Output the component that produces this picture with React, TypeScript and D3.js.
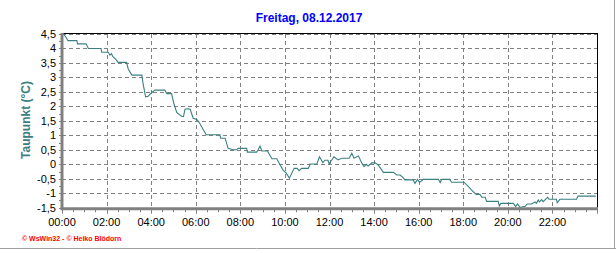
import React from "react";
import * as d3 from "d3";

const title = "Freitag, 08.12.2017";
const yLabel = "Taupunkt  (°C)";
const footer = "© WsWin32 - © Heiko Blödorn";
const yTicks = [-1.5, -1, -0.5, 0, 0.5, 1, 1.5, 2, 2.5, 3, 3.5, 4, 4.5];
const xTickHours = [0, 2, 4, 6, 8, 10, 12, 14, 16, 18, 20, 22];

const times = [
  "00:00","00:03","00:11","00:16","00:40","00:42","01:05","01:11","01:45","01:47",
  "02:05","02:09","02:13","02:17","02:25","02:31","02:54","02:58","03:08","03:35",
  "03:38","03:45","03:52","03:57","04:10","04:37","04:42","04:55","05:01","05:09",
  "05:22","05:27","05:31","05:39","05:45","05:53","06:03","06:09","06:20","06:28",
  "07:05","07:07","07:19","07:27","07:40","07:50","07:54","08:17","08:19","08:44",
  "08:48","08:53","08:58","09:13","09:25","09:38","09:47","09:55","10:03","10:12",
  "10:25","10:33","10:38","10:45","11:03","11:08","11:26","11:33","11:42","11:48",
  "11:56","11:59","12:12","12:23","12:33","12:53","13:00","13:06","13:18","13:27",
  "13:33","13:39","13:44","13:54","14:03","14:12","14:25","14:52","15:01","15:10",
  "15:18","15:23","15:45","15:50","15:57","16:02","16:13","16:53","16:58","17:02",
  "17:23","17:29","18:02","18:14","18:27","18:35","18:45","18:50","18:59","19:03",
  "19:34","19:37","19:41","20:15","20:21","20:26","20:33","20:42","20:46","20:52",
  "21:04","21:13","21:17","21:22","21:25","21:31","21:35","21:47","21:51","22:11",
  "22:13","22:20","23:05","23:09","23:57"
];
const values = [
  4.5,4.52,4.38,4.27,4.27,4.16,4.16,4.0,4.0,3.87,
  3.87,3.77,3.82,3.72,3.62,3.52,3.52,3.3,3.08,3.08,
  2.8,2.33,2.35,2.42,2.56,2.56,2.44,2.44,2.1,1.78,
  1.66,1.65,1.9,1.92,1.9,1.59,1.55,1.45,1.2,1.02,
  1.02,0.9,0.9,0.55,0.5,0.5,0.55,0.55,0.42,0.42,
  0.5,0.63,0.46,0.46,0.19,0.19,-0.02,-0.2,-0.3,-0.48,
  -0.14,-0.14,-0.22,-0.14,-0.14,0.01,0.01,0.26,0.06,0.14,
  0.14,0.02,0.26,0.15,0.21,0.21,0.38,0.21,0.29,0.04,
  -0.08,0.0,-0.06,0.05,0.05,-0.04,-0.28,-0.28,-0.37,-0.37,
  -0.46,-0.54,-0.54,-0.66,-0.52,-0.63,-0.52,-0.52,-0.63,-0.52,
  -0.52,-0.62,-0.62,-0.77,-0.95,-1.04,-1.04,-1.14,-1.14,-1.28,
  -1.28,-1.44,-1.35,-1.35,-1.46,-1.37,-1.49,-1.46,-1.46,-1.37,
  -1.37,-1.3,-1.35,-1.23,-1.3,-1.22,-1.29,-1.14,-1.21,-1.21,
  -1.33,-1.21,-1.21,-1.1,-1.1
];

const toHours = (s: string) => {
  const [h, m] = s.split(":").map(Number);
  return h + m / 60;
};
const pad = (h: number) => (h < 10 ? "0" + h : "" + h) + ":00";

export default function App() {
  const W = 616, H = 253;
  const left = 62, right = 597, top = 34, bottom = 207.7;
  const x = d3.scaleLinear().domain([0, 24]).range([left, right]);
  const y = d3.scaleLinear().domain([-1.5, 4.5]).range([bottom, top]);
  const data = times.map((t, i) => ({ t: toHours(t), v: values[i] }));
  const line = d3.line<{ t: number; v: number }>().x(d => x(d.t)).y(d => y(d.v));
  const minorX = d3.range(0, 24.01, 0.5);
  const minorY = d3.range(-1.5, 4.51, 0.25);
  const grid = "#808080";
  return (
    <svg width={W} height={H} style={{ position: "absolute", left: 0, top: 0, background: "#fff" }}
      fontFamily="Arial, 'Liberation Sans', sans-serif">
      <rect x={0} y={0} width={W} height={H} fill="#fff" />
      <text x={309} y={22} textAnchor="middle" fill="#0000ff" fontWeight="bold" fontSize={12}>{title}</text>
      {/* grid */}
      {yTicks.slice(1).map(v => (
        <line key={"gy" + v} x1={left} x2={right} y1={Math.round(y(v)) + 0.5} y2={Math.round(y(v)) + 0.5}
          stroke={grid} strokeDasharray="4 3" />
      ))}
      {xTickHours.slice(1).map(h => (
        <line key={"gx" + h} x1={Math.round(x(h)) + 0.5} x2={Math.round(x(h)) + 0.5} y1={top} y2={bottom}
          stroke={grid} strokeDasharray="4 3" />
      ))}
      {/* frame */}
      <line x1={left} x2={right + 0.5} y1={top - 0.5} y2={top - 0.5} stroke="#000" />
      <line x1={right + 0.5} x2={right + 0.5} y1={top - 1} y2={bottom} stroke="#000" />
      {/* data */}
      <path d={line(data) || ""} fill="none" stroke="#3b8080" strokeWidth={1.1} />
      {/* axes */}
      <line x1={left} x2={left} y1={top - 1} y2={bottom + 1.5} stroke="#808080" strokeWidth={3} />
      <line x1={left - 1.5} x2={right + 1} y1={bottom + 1} y2={bottom + 1} stroke="#808080" strokeWidth={3} />
      {minorY.map(v => (
        <line key={"ty" + v} x1={left - 3} x2={left} y1={Math.round(y(v)) + 0.5} y2={Math.round(y(v)) + 0.5} stroke="#808080" />
      ))}
      {minorX.map(h => (
        <line key={"tx" + h} x1={Math.round(x(h)) + 0.5} x2={Math.round(x(h)) + 0.5} y1={bottom}
          y2={bottom + (h % 2 === 0 ? 6 : 4.5)} stroke="#808080" />
      ))}
      {yTicks.map(v => (
        <text key={"ly" + v} x={56} y={y(v) + 4} textAnchor="end" fontSize={11} fill="#000">
          {String(v).replace(".", ",")}
        </text>
      ))}
      {xTickHours.map(h => (
        <text key={"lx" + h} x={x(h)} y={226} textAnchor="middle" fontSize={11} fill="#000">{pad(h)}</text>
      ))}
      <text transform="translate(30,120) rotate(-90)" textAnchor="middle" fontSize={12} fontWeight="bold" fill="#3b8080">
        {yLabel}
      </text>
      <text x={22} y={241} fontSize={7} fontWeight="bold" fill="#ff0000">{footer}</text>
      <line x1={0} x2={W} y1={248.5} y2={248.5} stroke="#a0a0a0" />
      <line x1={614.5} x2={614.5} y1={0} y2={249} stroke="#a0a0a0" />
    </svg>
  );
}
